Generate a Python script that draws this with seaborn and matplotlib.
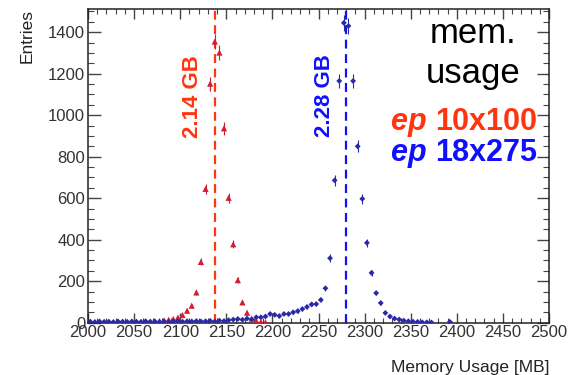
# Memory usage distribution for two ep beam configurations

import pandas as pd
import matplotlib.pyplot as plt
import seaborn as sns
from matplotlib.ticker import MultipleLocator

# -----------------------------
# Data
# -----------------------------
red_mem = [2002.5, 2007.5, 2012.5, 2017.5, 2022.5, 2027.5, 2032.5, 2037.5, 2042.5, 2047.5,
           2052.5, 2057.5, 2062.5, 2067.5, 2072.5, 2077.5, 2082.5, 2087.5, 2092.5, 2097.5,
           2102.5, 2107.5, 2112.5, 2117.5, 2122.5, 2127.5, 2132.5, 2137.5, 2142.5, 2147.5,
           2152.5, 2157.5, 2162.5, 2167.5, 2172.5, 2177.5, 2182.5, 2187.5, 2192.5]
red_entries = [3, 2, 4, 2, 3, 2, 3, 4, 2, 3,
               4, 3, 5, 4, 6, 8, 10, 14, 18, 25,
               37, 58, 82, 146, 293, 645, 1152, 1355, 1302, 937,
               602, 378, 205, 98, 48, 20, 9, 4, 2]

blue_mem = [2002.5, 2007.5, 2012.5, 2017.5, 2022.5, 2027.5, 2032.5, 2037.5, 2042.5, 2047.5,
            2052.5, 2057.5, 2062.5, 2067.5, 2072.5, 2077.5, 2082.5, 2087.5, 2092.5, 2097.5,
            2102.5, 2107.5, 2112.5, 2117.5, 2122.5, 2127.5, 2132.5, 2137.5, 2142.5, 2147.5,
            2152.5, 2157.5, 2162.5, 2167.5, 2172.5, 2177.5, 2182.5, 2187.5, 2192.5, 2197.5,
            2202.5, 2207.5, 2212.5, 2217.5, 2222.5, 2227.5, 2232.5, 2237.5, 2242.5, 2247.5,
            2252.5, 2257.5, 2262.5, 2267.5, 2272.5, 2277.5, 2282.5, 2287.5, 2292.5, 2297.5,
            2302.5, 2307.5, 2312.5, 2317.5, 2322.5, 2327.5, 2332.5, 2337.5, 2342.5, 2347.5,
            2352.5, 2357.5, 2362.5, 2367.5, 2372.5, 2392.5]
blue_entries = [5, 3, 6, 4, 5, 3, 6, 5, 4, 6,
                5, 4, 7, 5, 6, 4, 7, 5, 6, 8,
                5, 7, 6, 8, 6, 7, 9, 6, 10, 8,
                12, 15, 18, 14, 20, 16, 26, 26, 30, 42,
                38, 32, 42, 42, 50, 56, 66, 76, 88, 90,
                110, 166, 311, 686, 1165, 1445, 1430, 1165, 850, 597,
                385, 240, 143, 95, 47, 30, 20, 15, 10, 7,
                5, 4, 2, 2, 1, 4]

peaks = [2137.5, 2280.0]
peak_labels = ['2.14 GB', '2.28 GB']
samples = ['10x100', '18x275']

red_text = '#ff3510'
blue_text = '#1010ff'
red_marker = '#d41c34'
blue_marker = '#2a2aa8'

df = pd.concat([
    pd.DataFrame({'mem': red_mem, 'entries': red_entries, 'sample': samples[0]}),
    pd.DataFrame({'mem': blue_mem, 'entries': blue_entries, 'sample': samples[1]}),
])
df['err'] = df['entries'] ** 0.5

# -----------------------------
# Plot
# -----------------------------
sns.set_style("ticks")
plt.rcParams['font.family'] = ['Liberation Sans', 'DejaVu Sans']

fig = plt.figure(figsize=(5.71, 3.75), dpi=100)
ax = fig.add_axes([0.1541, 0.1395, 0.8074, 0.8355])

for name, col in [(samples[0], red_marker), (samples[1], blue_marker)]:
    sub = df[df['sample'] == name]
    ax.errorbar(sub['mem'], sub['entries'], yerr=sub['err'], fmt='none',
                ecolor=col, elinewidth=0.8, zorder=2)

sns.scatterplot(data=df, x='mem', y='entries', hue='sample', style='sample',
                palette={samples[0]: red_marker, samples[1]: blue_marker},
                markers={samples[0]: '^', samples[1]: 'D'},
                s=18, linewidth=0, legend=False, ax=ax, zorder=3)
# blue diamonds a bit smaller
ax.collections[-1].set_sizes([20 if s == samples[0] else 9 for s in df['sample']])

ax.axvline(peaks[0], color=red_text, ls=(0, (4, 2.5)), lw=1.6, zorder=1)
ax.axvline(peaks[1], color=blue_text, ls=(0, (4, 2.5)), lw=1.6, zorder=1)

ax.text(2113, 1092, peak_labels[0], rotation=90, color=red_text, fontsize=16,
        fontweight='bold', ha='center', va='center')
ax.text(2257, 1096, peak_labels[1], rotation=90, color=blue_text, fontsize=16,
        fontweight='bold', ha='center', va='center')

ax.text(2418, 1347, 'mem.', fontsize=25, ha='center', va='baseline', color='black')
ax.text(2418, 1154, 'usage', fontsize=25, ha='center', va='baseline', color='black')

for yv, name, col in [(928, samples[0], red_text), (779, samples[1], blue_text)]:
    t = ax.text(2487, yv, name, fontsize=22, fontweight='bold', color=col,
                ha='right', va='baseline')
    ax.annotate('ep ', xy=(0, 0), xycoords=t, ha='right', va='bottom',
                fontsize=22, fontweight='bold', fontstyle='italic', color=col)

ax.set_xlim(2000, 2500)
ax.set_ylim(0, 1510)
ax.xaxis.set_major_locator(MultipleLocator(50))
ax.xaxis.set_minor_locator(MultipleLocator(10))
ax.yaxis.set_major_locator(MultipleLocator(200))
ax.yaxis.set_minor_locator(MultipleLocator(50))
ax.tick_params(which='both', direction='in', top=True, right=True,
               labelsize=12, labelcolor='#333333', color='#444444')
ax.tick_params(axis='x', which='major', length=7, width=1.0, pad=2)
ax.tick_params(axis='x', which='minor', length=3.5, width=0.8)
ax.tick_params(axis='y', which='major', length=9, width=1.0, pad=2)
ax.tick_params(axis='y', which='minor', length=4.5, width=0.8)
for sp in ax.spines.values():
    sp.set_linewidth(1.1)
    sp.set_color('#222222')

ax.set_xlabel('Memory Usage [MB]', loc='right', fontsize=12.5, color='#222222', labelpad=14)
ax.set_ylabel('Entries', loc='top', fontsize=12.5, color='#222222', labelpad=10)

fig.savefig('out.png', dpi=100)
